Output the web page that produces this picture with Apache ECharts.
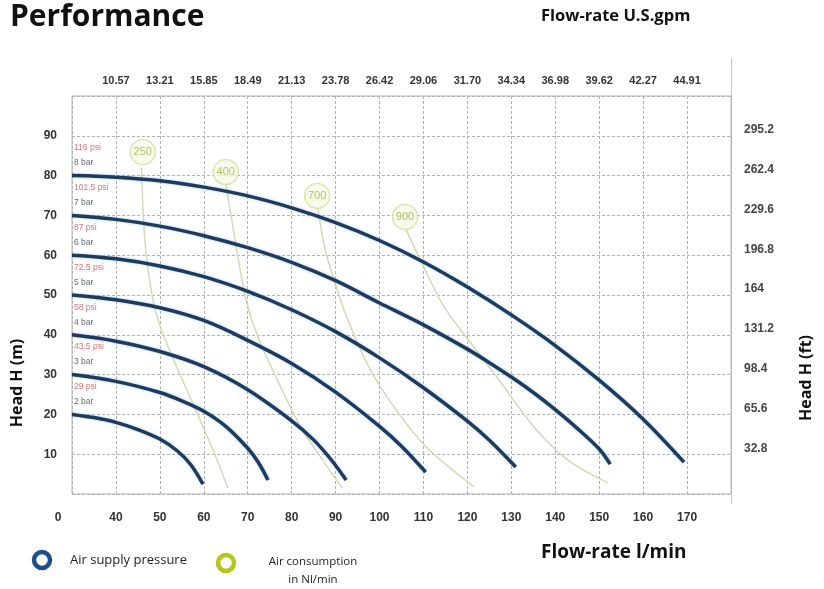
<!DOCTYPE html>
<html lang="en">
  <head>
    <meta charset="UTF-8" />
    <title>Performance</title>
    <script src="https://cdn.jsdelivr.net/npm/echarts@6/dist/echarts.min.js"></script>
    <style>
      html, body { margin: 0; padding: 0; background: #fff; }
      #main { width: 824px; height: 589px; }
    </style>
  </head>
  <body>
    <div id="main"></div>
    <script>
      // top axis labels (U.S. gpm) for flow 40..170 l/min
      var gpmLabels = ["10.57", "13.21", "15.85", "18.49", "21.13", "23.78", "26.42",
        "29.06", "31.70", "34.34", "36.98", "39.62", "42.27", "44.91"];
      // right axis labels (ft) for head 10..90 m
      var ftLabels = ["32.8", "65.6", "98.4", "131.2", "164", "196.8", "229.6", "262.4", "295.2"];

      // air supply pressure curves: [flow l/min, head m]
      var bar8 = [[30, 80], [40, 79.6], [50, 78.7], [60, 77.1], [70, 74.9], [80, 71.9], [90, 68.2],
        [100, 63.7], [110, 58.3], [120, 52], [130, 45], [140, 37.3], [150, 28.6], [160, 18.8], [169.3, 8]];
      var bar7 = [[30, 70], [40, 69], [50, 67.3], [60, 64.9], [70, 61.9], [80, 58.2], [90, 53.6],
        [100, 48], [110, 42.5], [120, 36.4], [125, 33], [130, 29.4], [135, 25.5], [140, 21.2],
        [145, 16.5], [150, 11.3], [152.5, 7.5]];
      var bar6 = [[30, 60], [40, 59.1], [50, 57.3], [60, 54.6], [70, 50.9], [80, 46.3], [90, 40.8],
        [100, 34.2], [110, 26.7], [120, 18.3], [125, 13.5], [131, 6.8]];
      var bar5 = [[30, 50], [40, 48.8], [50, 46.8], [60, 43.6], [70, 38.6], [80, 32.8], [90, 25.6],
        [100, 17], [105, 12], [110.5, 5.5]];
      var bar4 = [[30, 40], [40, 38.4], [50, 35.8], [60, 32], [70, 26.2], [80, 18.4], [85, 13.6], [89, 8.6], [92.4, 3.5]];
      var bar3 = [[30, 30], [40, 28.3], [50, 25.5], [55, 23.4], [60, 20.8], [65, 17], [70, 11.5], [72.5, 7.8], [74.6, 3.5]];
      var bar2 = [[30, 20], [35, 19.2], [40, 18], [45, 16.2], [50, 13.8], [54, 10.8], [57, 7.4], [59.8, 2.5]];
      var pressCurves = [bar8, bar7, bar6, bar5, bar4, bar3, bar2];
      var pressBar = ["8 bar", "7 bar", "6 bar", "5 bar", "4 bar", "3 bar", "2 bar"];
      var pressPsi = ["116 psi", "101.5 psi", "87 psi", "72.5 psi", "58 psi", "43.5 psi", "29 psi"];
      var pressHead0 = [80, 70, 60, 50, 40, 30, 20];

      // air consumption curves (Nl/min)
      var air250 = [[45.8, 82], [46.5, 65], [47.5, 55], [49, 46], [51.5, 38], [55, 29], [59, 19], [62.5, 10], [65.5, 1.5]];
      var air400 = [[65, 78], [66.5, 68], [68, 58], [69.8, 48], [72.5, 39], [76, 30.4], [82, 17], [88, 7], [91.5, 1.5]];
      var air700 = [[86, 71.5], [87.5, 62], [89.3, 55], [92.7, 44], [98, 31], [104.5, 20], [110, 12.5], [115, 7.5], [121.5, 1.8]];
      var air900 = [[106, 66.5], [110.1, 57], [114.7, 47], [120.8, 37.9], [127.7, 27.9], [135.2, 16.8], [142.9, 8.5], [152, 2.8]];
      var airCurves = [air250, air400, air700, air900];
      var airLabels = ["250", "400", "700", "900"];
      var airMarks = [[46.1, 85.9], [65, 80.9], [85.8, 74.9], [105.8, 69.6]];

      var myChart = echarts.init(document.getElementById("main"));

      var gridLine = { show: true, lineStyle: { color: "#b3b3b3", width: 1, type: [3, 2] } };
      var tickFont = { color: "#333", fontWeight: "bold", fontSize: 12, fontFamily: "Liberation Sans" };

      var series = [];
      airCurves.forEach(function (d) {
        series.push({
          type: "line", data: d, smooth: 0.35, symbol: "none", z: 2,
          lineStyle: { color: "#d6d9b6", width: 1.5 }
        });
      });
      pressCurves.forEach(function (d) {
        series.push({
          type: "line", data: d, smooth: 0.35, symbol: "none", z: 3,
          lineStyle: { color: "#1e3a5c", width: 3.5, shadowColor: "rgba(90,160,230,0.5)", shadowBlur: 3 }
        });
      });
      series.push({
        type: "scatter", z: 4, symbolSize: 0,
        data: pressHead0.map(function (h) { return [30, h]; }),
        label: {
          show: true, position: "right", offset: [-3, -20],
          formatter: function (p) {
            return "{p|" + pressPsi[p.dataIndex] + "}\n{b|" + pressBar[p.dataIndex] + "}";
          },
          rich: {
            p: { color: "#d0524e", fontSize: 8.5, lineHeight: 15, fontFamily: "Liberation Sans" },
            b: { color: "#3a4658", fontSize: 8.5, lineHeight: 15, fontFamily: "Liberation Sans" }
          }
        }
      });
      series.push({
        type: "scatter", z: 5, symbolSize: 25,
        data: airMarks,
        itemStyle: { color: "#f6f9e6", borderColor: "#d2e0a0", borderWidth: 1.5 },
        label: {
          show: true, position: "inside", color: "#9ab548", fontSize: 11,
          fontFamily: "Liberation Sans",
          formatter: function (p) { return airLabels[p.dataIndex]; }
        }
      });

      var option = {
        animation: false,
        grid: { left: 72, right: 93, top: 96, bottom: 95, show: true, borderColor: "#b8b8b8", borderWidth: 1 },
        xAxis: [
          {
            type: "value", position: "bottom", min: 30, max: 180, interval: 10,
            axisLine: { show: false }, axisTick: { show: false }, splitLine: gridLine,
            axisLabel: Object.assign({}, tickFont, {
              margin: 18,
              formatter: function (v) {
                if (v === 30) return "{z|0}";
                if (v === 180) return "";
                return String(v);
              },
              rich: { z: Object.assign({}, tickFont, { padding: [0, 28, 0, 0] }) }
            })
          },
          {
            type: "value", position: "top", min: 30, max: 180, interval: 10,
            axisLine: { show: false }, axisTick: { show: false }, splitLine: { show: false },
            axisLabel: Object.assign({}, tickFont, {
              margin: 10, fontSize: 11,
              formatter: function (v) { return gpmLabels[(v - 40) / 10] || ""; }
            })
          }
        ],
        yAxis: [
          {
            type: "value", position: "left", min: 0, max: 100, interval: 10,
            axisLine: { show: false }, axisTick: { show: false }, splitLine: gridLine,
            axisLabel: Object.assign({}, tickFont, {
              margin: 15,
              formatter: function (v) { return v === 0 || v === 100 ? "" : String(v); }
            })
          },
          {
            type: "value", position: "right", min: 0, max: 100, interval: 10,
            axisLine: { show: false }, axisTick: { show: false }, splitLine: { show: false },
            axisLabel: Object.assign({}, tickFont, {
              margin: 13, verticalAlign: "bottom", color: "#444",
              formatter: function (v) { return ftLabels[v / 10 - 1] || ""; }
            })
          }
        ],
        graphic: [
          { type: "line", shape: { x1: 731.5, y1: 58, x2: 731.5, y2: 504 }, style: { stroke: "#c4c4c4", lineWidth: 1 } },
          { type: "text", left: 10, top: 2, style: { text: "Performance", font: 'bold 30px "Open Sans"', fill: "#111" } },
          { type: "text", left: 541, top: 8, style: { text: "Flow-rate U.S.gpm", font: 'bold 16.5px "Open Sans"', fill: "#111" } },
          { type: "text", left: 541, top: 543, style: { text: "Flow-rate l/min", font: 'bold 19px "Open Sans"', fill: "#111" } },
          {
            type: "text", x: 17, y: 383, rotation: Math.PI / 2,
            style: { text: "Head H (m)", font: 'bold 16px "Open Sans"', fill: "#111", textAlign: "center", textVerticalAlign: "middle" }
          },
          {
            type: "text", x: 806, y: 378, rotation: Math.PI / 2,
            style: { text: "Head H (ft)", font: 'bold 16px "Open Sans"', fill: "#111", textAlign: "center", textVerticalAlign: "middle" }
          },
          { type: "circle", shape: { cx: 42, cy: 560, r: 8 }, style: { fill: "none", stroke: "#1b4f8e", lineWidth: 4.5 } },
          {
            type: "text", x: 70, y: 560,
            style: { text: "Air supply pressure", font: '13px "Open Sans"', fill: "#222", textVerticalAlign: "middle" }
          },
          { type: "circle", shape: { cx: 226, cy: 563, r: 8 }, style: { fill: "none", stroke: "#b5c51b", lineWidth: 4.5 } },
          {
            type: "text", x: 313, y: 562,
            style: { text: "Air consumption", font: '11.5px "Open Sans"', fill: "#222", textAlign: "center", textVerticalAlign: "middle" }
          },
          {
            type: "text", x: 313, y: 580,
            style: { text: "in Nl/min", font: '11.5px "Open Sans"', fill: "#222", textAlign: "center", textVerticalAlign: "middle" }
          }
        ],
        series: series
      };

      myChart.setOption(option);
    </script>
  </body>
</html>
